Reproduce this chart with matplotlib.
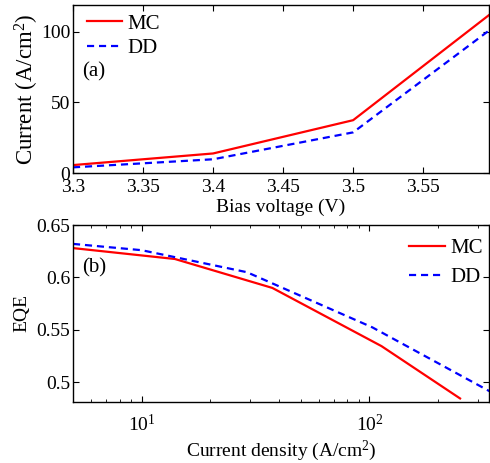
import numpy as np
import matplotlib.pyplot as plt

plt.rcParams['font.family'] = ['Liberation Serif', 'DejaVu Serif']
plt.rcParams['mathtext.fontset'] = 'stix'
plt.rcParams['mathtext.default'] = 'regular'
plt.rcParams['font.size'] = 14

# (a) current vs bias voltage
bias = [3.3, 3.4, 3.5, 3.6]
current_mc = [5.8, 14.0, 37.5, 114.0]
current_dd = [4.2, 9.9, 28.9, 103.0]
bias_ticks = [3.3, 3.35, 3.4, 3.45, 3.5, 3.55]
bias_labels = ["3.3", "3.35", "3.4", "3.45", "3.5", "3.55"]
current_ticks = [0, 50, 100]

# (b) EQE vs current density
dens_mc = [5, 14, 37.5, 113, 250]
eqe_mc = [0.628, 0.6176, 0.590, 0.5345, 0.4846]
dens_dd = [5, 10, 29, 103, 340]
eqe_dd = [0.632, 0.626, 0.605, 0.5524, 0.491]
eqe_ticks = [0.5, 0.55, 0.6, 0.65]
eqe_labels = ["0.5", "0.55", "0.6", "0.65"]

fig = plt.figure(figsize=(4.9, 4.63), dpi=100)
ax1 = fig.add_axes([0.149, 0.6257, 0.849, 0.3641])
ax2 = fig.add_axes([0.149, 0.1324, 0.849, 0.3816])

dash = (0, (3.2, 2.2))

ax1.plot(bias, current_mc, color="red", lw=1.6, label="MC")
ax1.plot(bias, current_dd, color="blue", lw=1.6, linestyle=dash, label="DD")
ax1.set_xlim(3.3, 3.597)
ax1.set_ylim(0, 119)
ax1.set_xticks(bias_ticks)
ax1.set_xticklabels(bias_labels)
ax1.set_yticks(current_ticks)
ax1.set_xlabel("Bias voltage (V)", labelpad=2)
ax1.set_ylabel("Current (A/cm$^2$)", fontsize=16.5, labelpad=0)
ax1.text(0.022, 0.60, "(a)", transform=ax1.transAxes, va="center",
         fontsize=15)
ax1.legend(loc="upper left", bbox_to_anchor=(0.0, 1.025), frameon=False,
           fontsize=15, handlelength=1.7, handletextpad=0.25,
           borderaxespad=0.25, labelspacing=0.22)

ax2.plot(dens_mc, eqe_mc, color="red", lw=1.6, label="MC")
ax2.plot(dens_dd, eqe_dd, color="blue", lw=1.6, linestyle=dash, label="DD")
ax2.set_xscale("log")
ax2.set_xlim(5, 335)
ax2.set_ylim(0.4815, 0.65)
ax2.set_yticks(eqe_ticks)
ax2.set_yticklabels(eqe_labels)
ax2.set_xlabel("Current density (A/cm$^2$)", labelpad=2)
ax2.set_ylabel("EQE", labelpad=4)
ax2.text(0.022, 0.757, "(b)", transform=ax2.transAxes, va="center",
         fontsize=15)
ax2.legend(loc="upper right", bbox_to_anchor=(1.017, 1.0), frameon=False,
           fontsize=15, handlelength=1.7, handletextpad=0.25,
           borderaxespad=0.25, labelspacing=0.45)

for ax in (ax1, ax2):
    ax.tick_params(which="both", direction="in", top=True, right=True)
    ax.tick_params(which="major", length=4, width=0.8, pad=2)
    ax.tick_params(which="minor", length=2, width=0.6)
    for s in ax.spines.values():
        s.set_linewidth(1.0)
ax1.tick_params(axis="x", which="major", pad=4)
ax2.tick_params(axis="x", which="major", pad=9)

fig.savefig("out.png", dpi=100)
